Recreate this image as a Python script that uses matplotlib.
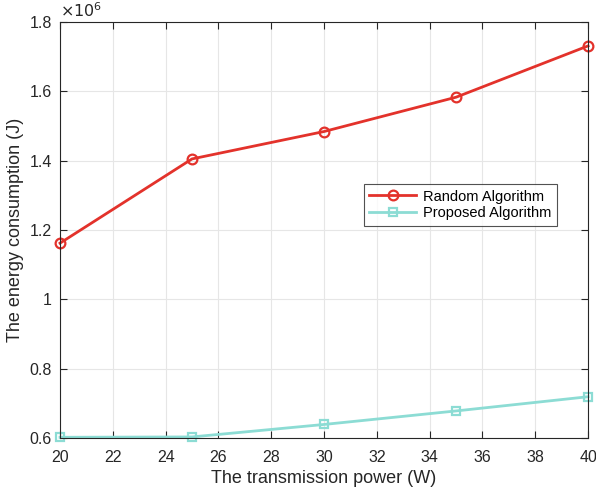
import matplotlib.pyplot as plt
from matplotlib.ticker import FuncFormatter, MultipleLocator

plt.rcParams['font.family'] = ['Liberation Sans', 'DejaVu Sans']

power = [20, 25, 30, 35, 40]
random_alg = [1.162e6, 1.405e6, 1.484e6, 1.583e6, 1.731e6]
proposed_alg = [0.602e6, 0.603e6, 0.639e6, 0.678e6, 0.719e6]

fig = plt.figure(figsize=(5.96, 4.95), dpi=100)
ax = fig.add_axes([0.1007, 0.1152, 0.886, 0.8404])

ax.plot(power, random_alg, color='#e3322b', lw=2, marker='o', ms=7,
        mfc='none', mew=1.6, label='Random Algorithm', clip_on=False)
ax.plot(power, proposed_alg, color='#8cdcd4', lw=2, marker='s', ms=6,
        mfc='none', mew=1.6, label='Proposed Algorithm', clip_on=False)

ax.set_xlim(20, 40)
ax.set_ylim(0.6e6, 1.8e6)
ax.xaxis.set_major_locator(MultipleLocator(2))
ax.yaxis.set_major_locator(MultipleLocator(0.2e6))
ax.yaxis.set_major_formatter(FuncFormatter(lambda v, p: '%g' % round(v / 1e6, 3)))
ax.grid(True, color='#e6e6e6', lw=0.8)
ax.set_axisbelow(True)

for s in ax.spines.values():
    s.set_color('#262626')
    s.set_linewidth(0.8)
ax.tick_params(direction='in', labelsize=11.5, colors='#262626', length=5,
               top=True, right=True, labeltop=False, labelright=False)
ax.tick_params(axis='x', pad=8.5)
ax.tick_params(axis='y', pad=6)

ax.text(0.0, 1.005, r'$\times10^{6}$', transform=ax.transAxes,
        fontsize=11.5, color='#262626', ha='left', va='bottom')

ax.set_xlabel('The transmission power (W)', fontsize=13, color='#262626', labelpad=4)
ax.set_ylabel('The energy consumption (J)', fontsize=13, color='#262626', labelpad=4)

leg = ax.legend(loc='upper left', bbox_to_anchor=(0.5625, 0.627), fontsize=10.5,
                frameon=True, fancybox=False, edgecolor='#262626',
                handlelength=3.2, borderpad=0.35, labelspacing=0.2,
                handletextpad=0.5)
leg.get_frame().set_linewidth(0.8)

fig.savefig('out.png', dpi=100)
